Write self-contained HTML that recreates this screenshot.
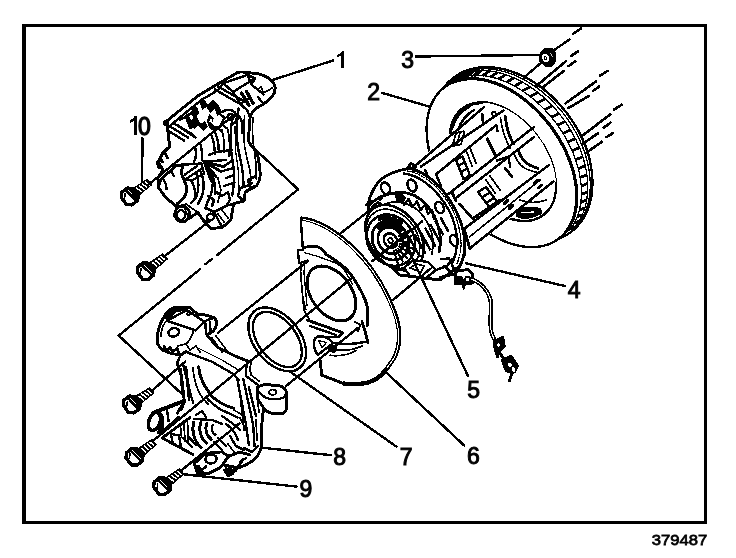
<!DOCTYPE html>
<html><head><meta charset="utf-8"><title>379487</title>
<style>
html,body{margin:0;padding:0;background:#fff;}
body{width:736px;height:558px;overflow:hidden;font-family:"Liberation Sans",sans-serif;}
svg{display:block;position:absolute;left:0;top:0;}
.t{font-family:"Liberation Sans",sans-serif;font-size:23px;fill:#000;stroke:#000;stroke-width:1px;}
.s{font-family:"Liberation Sans",sans-serif;font-size:16px;fill:#000;stroke:#000;stroke-width:0.5px;}
.l{stroke:#000;stroke-width:2.4;fill:none;stroke-linecap:round;stroke-linejoin:round;}
.m{stroke:#000;stroke-width:1.7;fill:none;stroke-linecap:round;stroke-linejoin:round;}
.n{stroke:#000;stroke-width:1.3;fill:none;stroke-linecap:round;stroke-linejoin:round;}
.k{stroke:#000;stroke-width:2.9;fill:none;stroke-linecap:round;stroke-linejoin:round;}
.w{fill:#fff;}
.b{fill:#000;}
</style></head>
<body>
<svg width="736" height="558" viewBox="0 0 736 558" shape-rendering="crispEdges">
<rect x="0" y="0" width="736" height="558" fill="#fff"/>
<!-- FRAME -->
<g id="frame">
<rect x="22" y="24" width="4" height="500" class="b"/>
<rect x="22" y="24" width="685" height="3.2" class="b"/>
<rect x="703.6" y="24" width="3.2" height="500" class="b"/>
<rect x="22" y="520.5" width="685" height="3.5" class="b"/>
</g>
<!-- LABELS -->
<g id="labels" opacity="0.999">
<path d="M342.1 51.0 L343.7 51.0 L343.7 67.6 L341.2 67.6 L341.2 55.5 C340.0 56.1 338.6 56.9 337.2 57.4 L337.2 55.1 C339.0 54.3 340.6 52.8 342.1 51.0 Z" fill="#000"/>
<text class="t" x="367.3" y="100.3">2</text>
<text class="t" x="401.2" y="67.6">3</text>
<text class="t" x="567.8" y="298.4">4</text>
<text class="t" x="467.3" y="397.5">5</text>
<text class="t" x="467" y="464.3">6</text>
<text class="t" x="399.7" y="464.8">7</text>
<text class="t" x="333.3" y="464.8">8</text>
<text class="t" x="299.6" y="497.1">9</text>
<path d="M134.9 116.0 L137.4 116.0 L137.4 134.6 L134.0 134.6 L134.0 121.0 C132.7 121.8 131.3 122.6 129.8 123.2 L129.8 120.7 C131.7 119.7 133.4 118.0 134.9 116.0 Z" fill="#000"/>
<text class="t" x="138.1" y="134.6" transform="translate(0 134.6) scale(1 1.12) translate(0 -134.6)" style="stroke-width:1.2px">0</text>
<text class="s" x="0" y="0" transform="translate(651.8 545.3) scale(1.04 0.96)" style="stroke-width:0.8px">379487</text>
</g>
<!-- 20_rotor.svg -->
<g id="rotor">
<ellipse class="l w" cx="512.3" cy="154.8" rx="97.0" ry="68.6" transform="rotate(52.8 512.3 154.8)"/>
<path class="n" d="M458.3 75.0 L461.5 73.4 L464.9 72.1 L468.3 70.9 L471.9 70.0 L475.6 69.4 L479.3 68.9 L483.2 68.7 L487.1 68.8 L491.1 69.1 L495.2 69.6 L499.3 70.4 L503.4 71.4 L507.6 72.6 L511.7 74.0 L515.9 75.7 L520.0 77.6 L524.1 79.7 L528.2 82.1 L532.2 84.6 L536.2 87.3 L540.1 90.2 L544.0 93.3 L547.7 96.6 L551.3 100.0 L554.8 103.6 L558.2 107.3 L561.5 111.1 L564.6 115.1 L567.6 119.2 L570.5 123.4 L573.1 127.7 L575.6 132.0 L577.9 136.5 L580.1 140.9 L582.0 145.4 L583.8 150.0 L585.3 154.6 L586.6 159.1 L587.8 163.7 L588.7 168.2 L589.4 172.7 L589.9 177.2 L590.2 181.6 L590.3 185.9 L590.1 190.1 L589.7 194.3 L589.1 198.3 L588.3 202.3 L587.3 206.1 L586.1 209.7 L584.7 213.2 L583.0 216.6 L581.2 219.8 L579.2 222.8 L576.9 225.7"/>
<path class="n" d="M454.8 77.8 L457.8 76.1 L461.0 74.6 L464.3 73.4 L467.8 72.3 L471.3 71.6 L475.0 71.0 L478.7 70.7 L482.6 70.6 L486.5 70.7 L490.5 71.1 L494.5 71.8 L498.5 72.6 L502.6 73.7 L506.7 75.0 L510.9 76.6 L515.0 78.4 L519.1 80.4 L523.1 82.5 L527.2 84.9 L531.2 87.5 L535.1 90.3 L538.9 93.3 L542.7 96.5 L546.4 99.8 L549.9 103.2 L553.4 106.9 L556.7 110.6 L559.9 114.5 L563.0 118.5 L565.9 122.6 L568.7 126.8 L571.3 131.1 L573.7 135.5 L576.0 139.9 L578.1 144.4 L580.0 148.9 L581.6 153.4 L583.1 157.9 L584.4 162.5 L585.5 167.0 L586.4 171.5 L587.0 175.9 L587.5 180.3 L587.7 184.7 L587.7 188.9 L587.5 193.1 L587.1 197.2 L586.5 201.2 L585.7 205.0 L584.6 208.7 L583.3 212.3 L581.9 215.7 L580.2 219.0 L578.4 222.1 L576.3 225.0 L574.1 227.7"/>
<path d="M461.2 77.3 L466.8 72.6 M468.1 75.8 L474.0 71.1 M475.3 75.2 L481.5 70.6 M482.8 75.6 L489.4 71.0 M490.6 76.9 L497.5 72.4 M498.6 79.1 L505.7 74.7 M506.6 82.2 L513.9 77.9 M514.6 86.2 L522.1 81.9 M522.5 91.0 L530.1 86.8 M530.2 96.5 L537.9 92.5 M537.6 102.8 L545.4 98.9 M544.7 109.6 L552.5 105.9 M551.3 117.1 L559.1 113.5 M557.4 125.0 L565.2 121.5 M563.0 133.3 L570.6 130.0 M567.9 141.9 L575.4 138.7 M572.1 150.7 L579.5 147.7 M575.6 159.6 L582.8 156.7 M578.3 168.5 L585.2 165.8 M580.2 177.3 L586.9 174.7 M581.2 186.0 L587.7 183.5 M581.5 194.3 L587.6 192.0 M580.9 202.3 L586.7 200.1 M579.4 209.9 L584.9 207.7 M577.2 216.9 L582.3 214.8 M574.2 223.2 L578.9 221.3 M570.4 228.9 L574.7 227.0 " stroke="#000" stroke-width="2.8" fill="none"/>
<path d="M445.5 86.2 L452.7 78.5 M448.2 84.3 L455.7 76.5 M451.0 82.7 L458.7 74.6 M453.9 81.3 L461.9 73.0 M457.0 80.1 L465.3 71.7 M460.2 79.1 L468.7 70.5 M463.6 78.4 L472.3 69.6 M467.0 77.9 L476.0 68.9 M470.5 77.6 L479.8 68.5 M474.2 77.5 L483.7 68.3 " stroke="#000" stroke-width="1.5" fill="none"/>
<path class="n" d="M451.0 81.8 L453.9 80.2 L457.0 78.8 L460.2 77.6 L463.5 76.7 L466.9 76.0 L470.4 75.5 L474.1 75.2 L477.8 75.2 L481.6 75.5 L485.4 75.9 L489.3 76.6 L493.3 77.5 L497.3 78.7 L501.3 80.1 L505.3 81.6 L509.3 83.5 L513.3 85.5 L517.2 87.7 L521.2 90.1 L525.1 92.7 L528.9 95.5 L532.7 98.5 L536.4 101.7 L540.0 105.0 L543.5 108.4 L546.9 112.1 L550.2 115.8 L553.4 119.7 L556.4 123.6 L559.3 127.7 L562.1 131.9 L564.7 136.1 L567.1 140.4 L569.3 144.8 L571.4 149.2 L573.3 153.6 L575.0 158.1 L576.5 162.6 L577.9 167.0 L579.0 171.4 L579.9 175.9 L580.6 180.2 L581.1 184.5 L581.4 188.8 L581.5 193.0 L581.4 197.0 L581.0 201.0 L580.5 204.9 L579.7 208.6 L578.8 212.3 L577.6 215.7 L576.3 219.0 L574.7 222.2 L573.0 225.2 L571.0 228.0 L568.9 230.6"/>
<ellipse class="l w" cx="501.7" cy="162.9" rx="94.9" ry="61.1" transform="rotate(53.0 501.7 162.9)"/>
<path d="M451.9 82.7 L454.9 81.5 L458.1 80.5 L461.4 79.7 L464.7 79.1 L468.2 78.8 L471.8 78.7 L475.4 78.8 L479.1 79.1 L482.9 79.7 L486.7 80.5 L490.6 81.6 L494.5 82.8 L498.4 84.3 L502.4 86.0 L506.3 87.9 L510.2 90.0 L514.1 92.3 L518.0 94.9 L521.8 97.5 L525.5 100.4 L529.2 103.5 L532.9 106.7 L536.4 110.0 L539.8 113.5 L543.2 117.2 L546.4 120.9 L549.5 124.8 L552.5 128.8 L555.3 132.9 L558.0 137.0 L560.5 141.3 L562.9 145.6 L565.1 149.9 L567.1 154.3 L568.9 158.7 L570.6 163.1 L572.1 167.5 L573.3 171.9 L574.4 176.3 L575.3 180.6 L576.0 184.9 L576.5 189.1 L576.7 193.3 L576.8 197.3 L576.7 201.3 L576.3 205.2 L575.8 208.9 L575.0 212.6 L574.1 216.0 L572.9 219.4 L571.6 222.6 L570.0 225.6 L568.3 228.5 L566.4 231.2" stroke="#000" stroke-width="3.2" fill="none"/>
<ellipse class="l w" cx="503.1" cy="161.8" rx="66.7" ry="42.9" transform="rotate(52.7 503.1 161.8)"/>
<path d="M453.3 157.8 L452.2 153.7 L451.3 149.6 L450.7 145.6 L450.3 141.7 L450.2 137.9 L450.3 134.2 L450.7 130.6 L451.4 127.2 L452.3 123.9 L453.4 120.8 L454.8 118.0 L456.5 115.3 L458.3 112.9 L460.4 110.7 L462.7 108.7 L465.2 107.1 L467.8 105.6 L470.7 104.5 L473.7 103.6 L476.8 103.1 L480.1 102.8 L483.4 102.7 L486.9 103.0 L490.5 103.6 L494.1 104.4 L497.7 105.6 L501.4 107.0 L505.1 108.6 L508.8 110.6" stroke="#000" stroke-width="3.2" fill="none" stroke-linecap="round"/>
</g>

<!-- 25_studs.svg -->
<g id="cage">
<path d="M408.8 168.4 L483.0 106.5 L483.4 102.7 L487.8 103.1 L492.3 104.0 L496.8 105.3 L501.4 107.0 L506.0 109.1 L510.6 111.6 L515.2 114.5 L519.6 117.8 L523.9 121.4 L528.1 125.3 L532.0 129.5 L535.8 134.0 L539.3 138.6 L542.5 143.4 L545.4 148.4 L548.0 153.5 L550.3 158.6 L552.2 163.8 L553.7 168.9 L554.9 174.0 L555.6 179.0 L556.0 181.5 L470.0 250.0 L463.0 232.0 L455.0 214.0 L444.0 192.0 L430.0 178.0 Z" fill="#fff" stroke="none"/>
</g>
<g id="hat">
<!-- hat inner arcs -->
<path class="k" d="M452 128 C455 118 462 110 470 106"/>
<path class="l" d="M458 130 C461 121 467 114 474 110"/>
<path class="k" d="M505.2 116.1 C506 122 507 128 508.5 132.4 S511 140 513.4 143.8"/>
<path class="m" d="M500.5 118 C501.5 125 503 132 505 137 S508 144 510 148"/>
<path class="k" d="M518.3 150.3 C520 155 522 159 524.8 161.7 S532 166.5 537.8 168.3"/>
<path class="m" d="M514 154 C516 159 519 164 523 167 S531 171 536 172"/>
<path class="k" d="M482.4 114.5 L483.2 124.2 M487.3 138.9 L495.4 155.2 M505.2 168.3 L511.7 176.4"/>
<path class="m" d="M466 150 L472 166 M470 148 L476 163 M490 176 L500 190 M486 180 L495 193"/>
<circle cx="493.8" cy="113.6" r="2" class="m"/>
<path class="l" d="M497 160.5 L508.5 156.8 L510.1 166.6"/>
<!-- slots -->
<path class="l" d="M456 160 L462.5 156.5 L470 175.5 L463.5 179 Z M458.3 165.8 L464.8 162.3 M461 172 L467.5 168.5"/>
<path class="l" d="M478 192 L486 187 L498 203 L490 208 Z M482 197.5 L490 192.5 M486 203 L494 198"/>
<path d="M452.5 146 L456 133 M456.5 146 L460.5 131 M461 144.5 L464.5 131 M456 133 L464.5 131 M452.5 146 L461 144.5" stroke="#000" stroke-width="1.8" fill="none"/>
<!-- dark slot lower right -->
<path class="l b" d="M517 211 C520 208 530 207 540 209 L541 213 C533 218 522 219 517 216 Z"/>
<path d="M521 212.5 L534 212" stroke="#fff" stroke-width="1.2" fill="none"/>
<path class="m" d="M520 200 C528 203 538 203 546 200"/>
</g>
<g id="studs" class="l" style="stroke-width:2.5">
<path d="M411.7 168.8 L484 107.1"/>
<path d="M421 166.5 L503.6 110.4"/>
<path d="M436 174.3 L496.3 125.1 L497.5 131"/>
<path d="M447.5 194.7 L533.6 127.3"/>
<path d="M454.7 199 L533.6 137.3"/>
<path d="M464.5 228.5 L549.2 164.9"/>
<path d="M469.7 248.5 L553.4 181.5"/>
<path d="M469.7 236.7 L540.6 179.6" class="m"/>
<path class="k" d="M425 170 L430 181 M436 174.3 L441 186 M459.6 204 L472.6 218.6 L500 199.9" style="stroke-width:2.6"/>
<!-- marks on bars -->
<path class="k" d="M504 204 L508 200 M509 209 L513 205 M534 183 L538 180 M538 188 L542 185"/>
<path class="k" d="M452 192.5 L456 201 M464.8 230.8 L469.7 248.5"/>
</g>

<!-- 30_hub.svg -->
<g id="hub">
<!-- flange silhouette -->
<path class="k w" d="M368.4 203 C370 195 375 185 381 179.5 S397 170.5 408.8 168.4 C420 170 435 180 444 192 S460 215 463 230 S466 252 460 266 L440 280 L400 275 L372 250 Z"/>
<!-- rim inner arcs -->
<path class="l" d="M404 173.5 C416 175 428 183 437.8 194.2 S452 214 455 226 S458 250 453 262"/>
<path class="n" d="M407 171 C419 172.5 432 181 441 192.5 S456 214 459 228 S462 250 457 264" stroke-dasharray="1.5 1.5"/>
<!-- holes -->
<ellipse cx="385.6" cy="188.5" rx="6.3" ry="4.3" transform="rotate(65 385.6 188.5)" class="l"/>
<path class="n" d="M388 184 C391 186 390 192 387 194"/>
<ellipse cx="412" cy="185.6" rx="6.3" ry="4.3" transform="rotate(65 412 185.6)" class="l"/>
<path class="n" d="M414.5 181 C417.5 183 416.5 189 413.5 191"/>
<ellipse cx="439.5" cy="207.5" rx="6" ry="4" transform="rotate(65 439.5 207.5)" class="l"/>
<ellipse cx="454" cy="240.5" rx="5.5" ry="3.8" transform="rotate(70 454 240.5)" class="l"/>
<!-- stud base nubs -->
<path class="k" d="M407 169 L411 163.5 L416 166 L413.5 171.5"/>
<!-- inner boss ring on flange -->
<path class="k" d="M370 204.5 C376 198 386 193.5 398 192.5 S419 196.5 426.5 205 S436 219 438.5 228 S441 242 439 252"/>
<path class="l" d="M400 197 L404 204.5 L408.5 199 L412.5 207 L417 201.5 L420.5 210 L425 205 L428 214 L432 210 L434 219"/>
<path class="b" d="M394 194 L402 193.5 L406 198 L403 204 L397 202.5 Z"/>
<path class="l" d="M372 207 L378 202 L384 206 M380 200 L383 196"/>
<path class="k" d="M366.5 205 L372 201.5"/>
<path class="m" d="M381 206 C388 202 398 201 407 204 S424 215 429 226 S434 244 432 254"/>
<!-- bearing concentric -->
<g transform="rotate(54.4 390.5 240.5)" fill="none" stroke="#000">
<ellipse cx="390.5" cy="235.5" rx="36.0" ry="25.0" stroke-width="2.6" fill="#fff"/>
<ellipse cx="390.5" cy="237.5" rx="32.0" ry="24.0" stroke-width="1.6" fill="none"/>
<ellipse cx="390.5" cy="240.0" rx="27.0" ry="22.8" stroke-width="2.6" fill="none"/>
<ellipse cx="390.5" cy="240.5" rx="20.5" ry="17.3" stroke-width="2.8" fill="none"/>
<ellipse cx="390.5" cy="240.5" rx="14.0" ry="11.8" stroke-width="2.8" fill="none"/>
<ellipse cx="390.5" cy="240.5" rx="7.5" ry="6.3" stroke-width="2.6" fill="none"/>
<ellipse cx="390.5" cy="240.5" rx="2.6" ry="2.0" stroke-width="1.8" fill="none"/>
</g>
<path d="M398.0 236.4 L409.4 230.2 M399.0 238.8 L412.1 236.2 M399.5 241.3 L413.4 242.6 M399.4 243.7 L413.0 248.7 M398.6 245.9 L411.2 254.4 M397.3 247.8 L407.9 259.0 M395.6 249.1 L403.4 262.4 M393.5 249.9 L398.1 264.3 " stroke="#000" stroke-width="2" fill="none"/>
<path d="M404.0 241.0 L412.2 255.6 M409.2 237.6 L420.2 257.1 M414.4 234.2 L425.4 253.7 M419.6 230.8 L430.6 250.3 M424.8 227.4 L435.8 246.9 M430.0 224.0 L441.0 243.5 M435.2 220.6 L443.4 235.2 M440.4 217.2 L448.6 231.8 " stroke="#000" stroke-width="2.5" fill="none"/>
<path d="M379.4 227.2 L380.6 226.3 L381.9 225.5 L383.3 224.9 L384.8 224.5 L386.4 224.2 L387.9 224.1 L389.6 224.2 L391.2 224.5 L392.8 224.9 L394.4 225.5 L395.9 226.3 L397.4 227.2 L398.8 228.3 L400.2 229.5" stroke="#000" stroke-width="6" fill="none" stroke-linecap="round"/>
<path d="M379.6 219.3 L381.6 218.5 L383.6 218.0 L385.8 217.8 L388.0 217.8 L390.3 218.1 L392.5 218.6 L394.7 219.3 L396.9 220.3 L399.0 221.5 L401.0 222.9" stroke="#000" stroke-width="3.6" fill="none" stroke-linecap="round"/>
<path class="l w" d="M404 268 L413 260 L428 262 L436 270 L426 278 L410 276 Z"/>
<path class="m" d="M410 268 L416 264 L424 266 L421 272 Z M428 270 L433 267"/>
<path class="l" d="M436 270 L447 266 L452 259"/>
</g>

<!-- 35_wire.svg -->
<g id="wire">
<!-- sensor connector -->
<path class="k w" d="M455 271.5 L468 269.5 L472.5 274 L472.5 283 L455.5 284 Z"/>
<path class="b" d="M455 276 L462 275.5 L466 284 L464 291 L461 284 L455.5 284 Z"/>
<ellipse cx="467.7" cy="279.5" rx="2.8" ry="2.8" class="m w"/>
<path class="k" d="M464.4 255 L457.9 270.5"/>
<path class="l" d="M441 259 L449 258.5 L455 271 M440 277 L453.9 274.6 M444 266 L452 273"/>
<!-- wire double line -->
<path d="M471 279 C480 282 488 290 490.5 300 C491.5 310 489.5 322 491 330 C492 337 496 342 498 346" fill="none" stroke="#000" stroke-width="4.2" stroke-linecap="round"/>
<path d="M471 279 C480 282 488 290 490.5 300 C491.5 310 489.5 322 491 330 C492 337 496 342 498 346" fill="none" stroke="#fff" stroke-width="1"/>
<!-- connectors lower -->
<path class="l b" d="M494 341 L503 337 L504.5 346 L500 351 L497.5 357 L495 350 Z"/>
<ellipse cx="498.5" cy="345" rx="2.2" ry="2.2" class="n w"/>
<path class="k" d="M499 352 L509 366"/>
<path class="l b" d="M502 360 L511 356 L518 366 L513 373 L506 371 Z"/>
<ellipse cx="510" cy="365" rx="2.5" ry="3.2" class="n w" transform="rotate(-35 510 365)"/>
<ellipse cx="513.5" cy="369.5" rx="2.2" ry="3" class="n w" transform="rotate(-35 513.5 369.5)"/>
<path class="k" d="M512 373 L509.5 381"/>
</g>

<!-- 40_shield.svg -->
<g id="shield">
<!-- body fill -->
<path class="w" d="M300.7 218.5 C315 220 332 228 350.5 245.2 S380 280 388 297 S400 325 399 340 S392 362 384 372 S362 386 343 383.5 L331.6 378.8 L321.7 375.3 L320.3 361 L316 352 L312 318 L304 310 L300.3 272.8 L299 263 L297.7 250 L302.9 249.8 Z"/>
<!-- rim thick double -->
<path d="M300.7 218.5 C315 220 332 228 350.5 245.2 S380 280 388 297 S400 325 399 340 S392 362 384 372 S362 386 343 383.5" fill="none" stroke="#000" stroke-width="4.4"/>
<path d="M303 219.5 C315 221 332 229 350.5 246 S380 280 387.5 297 S399.5 325 398.5 340 S393 360 387 368" fill="none" stroke="#fff" stroke-width="1"/>
<!-- lower left lobe -->
<path class="k" d="M343 383.5 L331.6 378.8 L321.7 375.3 L320.3 361"/>
<!-- left edge -->
<path class="l" d="M300.7 218.5 L302.9 249.8 L297.7 249.8 L299.2 263.3 L307.4 260.6"/>
<path class="m" d="M301.2 264 L300.5 272.8 L304 310.4 L309 319"/>
<path class="n" d="M304.5 264 L304 272.8 L307 306"/>
<!-- ridge -->
<path class="k" d="M302.9 248.3 C306 246.5 316 245 320.9 248.3 S324 253 327 255 S341 263 347.8 270.8 S356 282 362 293 S369 312 367 326"/>
<path class="n" d="M304.4 252.8 C315 255 325 259 334.3 262.5 S348 276 353 285"/>
<!-- big opening ellipse -->
<ellipse cx="331.5" cy="293.5" rx="30.8" ry="19.9" transform="rotate(53.5 331.5 293.5)" fill="none" stroke="#000" stroke-width="3"/>
<path class="n" d="M301.4 272.3 C300.5 280 302 297 306 310"/>
<!-- V ribs lower -->
<path class="k" d="M307.5 320.2 L342.5 332.6 L339 337 L318 337"/>
<path class="l" d="M310 326 L336 335"/>
<path class="k" d="M362 321.8 L365 331 L368.1 343.1"/>
<path class="m" d="M355 322 L360.5 325 L358 331"/>
<!-- tab -->
<path class="l" d="M314 343.5 C314 339.5 316 336.5 319.4 336.2 C325 336 330 339 333.1 343.1 C328 347 322 351 317.9 355.3 C315.5 352 314 348 314 343.5 Z"/>
<path class="n" d="M318.5 340.5 L322 347.5 L326.5 342.5 Z"/>
<path class="l" d="M333.1 343.1 C344 345 356 344 366.6 341.6"/>
<path class="m" d="M331.6 349.2 C342 351.5 353 350 362 346.1 M330 355.3 C339 356.5 348 355 355.9 350.7"/>
<path class="k" d="M328 348 L336 346 L334 352 Z"/>
</g>

<!-- 50_oring.svg -->
<g id="oring">
<ellipse cx="277.2" cy="339.4" rx="36.3" ry="23.1" transform="rotate(51.5 277.2 339.4)" class="l"/>
<ellipse cx="277.4" cy="339.5" rx="31.6" ry="19" transform="rotate(52.5 277.4 339.5)" class="l"/>
</g>

<!-- 60_knuckle.svg -->
<g id="knuckle">
<!-- overall white mask -->
<path class="w" d="M165.2 315.2 L174.7 307.6 L190 307.6 L197.6 314.3 L214.7 318 L216.6 324.7 L212 333 L234.6 355.8 L248.9 361.6 L257.5 384.5 L266 384 L283 385 L287 392 L287 408 L283 413.5 L263 411 L262 445 L257.5 456 L246 465 L231 471 L224 476 L197 474 L194 463 L193 454.5 L162.2 438 L164.3 430 L150 432 L147 420 L153 411 L183 401 L178 363 L186 352 L171 353.3 L157.6 343.8 L157.6 334.2 Z"/>
<!-- upper boss -->
<path class="k" d="M165.2 315.2 C167 311 171 308.5 174.7 307.6 L190 307.6 L197.6 314.3 L207 315.2 L214.7 318 C216.5 320 217 322.5 216.6 324.7 C216 328 214.5 330 212.8 331.4 L207 335.2"/>
<path class="k" d="M165.2 315.2 C161 321 158.5 328 157.6 334.2 L157.6 343.8 C159 347 161 349 163.3 350.4 L171 353.3 L180.4 355.2 L186.1 351.4"/>
<path class="b" d="M164.1 318.5 L171.7 308.7 L185.9 307.1 L187.5 310 L176 312.5 L167 320.5 Z"/>
<path class="l w" d="M166.8 320.7 L187 310.2 L204.3 321.7 L195.7 330.4 Z"/>
<path class="m" d="M168 319 C163 324 161 330 161 336 M193.8 330.4 C192 336 190 341 186 344 L178 346"/>
<ellipse cx="188.6" cy="313.8" rx="1.7" ry="1.3" class="m"/>
<ellipse cx="173.8" cy="332.3" rx="5.4" ry="4.2" class="l" transform="rotate(-15 173.8 332.3)"/>
<path class="l" d="M205.2 321 L212 318.5 M205.2 321 L206 334 M210 322 L210.5 331"/>
<path class="k" d="M164 346 L166 351 L170 347.5 L172.5 352 L177 348.5 L179 353.5"/>
<path class="m" d="M186 344 L190 350 L196 346 L200 352"/>
<!-- arm -->
<path class="k" d="M207 335.2 L217.4 347.2 L234.6 355.8 L248.9 361.6"/>
<path class="l" d="M186.1 351.4 L188.7 353 L211.6 361.6 L231.7 373 L238.9 380.2"/>
<path class="n" d="M196 347 L222 360 L240 371"/>
<path class="m" d="M212 338 L222 352 M216 336 L228 352"/>
<!-- neck to ear -->
<path class="l" d="M247.5 363 C246 367 245.5 372 246 375.9 L257.5 384.5"/>
<path class="m" d="M251 362.5 C250 366 250 371 251 375 L259 381"/>
<!-- ear -->
<path class="k w" d="M257.5 387.4 C260 385.5 263 384.6 266.1 384.5 L280.5 386 C283.5 387 285.5 389 286.2 391.7 L286.8 407.5 C286.5 410 285 412 283.4 413.2 L271.9 413.2 C268 412.5 265 410.5 263.3 407.5 L257.5 398.8 Z"/>
<path class="l" d="M259 391.7 C263 398 270 400 278 399 S286 395 286.2 391.7"/>
<ellipse cx="272.7" cy="392.2" rx="3.6" ry="2.6" class="m"/>
<!-- web right edge -->
<path class="k" d="M263.3 410.3 L261.8 424.7 L261.8 444.7 C261 450 259.5 453 257.5 456.2 C254 460 250 463 246 464.8 L231.7 470.6"/>
<path class="l" d="M237.5 380.2 L246 424.7 L248.9 444.7 M243.2 378.8 L253.2 424.7 L254.5 446 M248.9 387.4 L256.1 416"/>
<path class="m" d="M240 395 L244 430 M257.5 398.8 L259 412 M256 420 L257 440"/>
<!-- left structure -->
<path class="k" d="M177.2 363 L181.5 375.9 L184.4 401.7 L177.2 413.2"/>
<path class="l" d="M180.4 355.2 L177.2 363 M183 364 L187 380 L189 400"/>
<!-- bore arcs upper -->
<path class="l" d="M180.8 368.7 C180.5 374 181 380 181.6 384.8 S183 394 184.3 399.1"/>
<path class="l" d="M186.1 366.9 C186.5 374 187.5 381 188.8 386.6 S191 397 193.3 402.7"/>
<path class="k" d="M198.7 366.9 C199 372 200.5 377 202.3 381.2 S205 386.5 207.6 390.2 L211.2 395.6 C214 398.5 218 401.5 222 403.6 S229 407 234 408.5"/>
<path class="l" d="M207.6 399.1 C211 402.5 214.5 405.5 218.4 408.1 S225 411.5 230 413.8 L237.5 417.5"/>
<path class="m" d="M193 368 C193.5 376 195.5 384 198 390 S204 400 208 404"/>
<!-- lower left edge & tie rod arm -->
<path class="k" d="M190 417.5 L178.7 425.8 L162.2 438 L193 454.5"/>
<path class="k" d="M184.4 401.7 L181 410"/>
<path d="M153 412.9 C162 409.5 172 405.5 183 401.4" stroke="#000" stroke-width="4" fill="none" stroke-linecap="round"/>
<path class="k" d="M164.3 430 L178.7 417.2"/>
<ellipse cx="154.5" cy="421.5" rx="5.6" ry="9.4" transform="rotate(20 154.5 421.5)" fill="#fff" stroke="#000" stroke-width="3.6"/>
<path d="M158.5 412 C162.5 414 164 420 163 426 C162.5 430 160.5 432.5 158 433 C160.5 428.5 161 419 158.5 412 Z" class="l b"/>
<path class="l" d="M167 409.5 L168.5 421"/>
<!-- frame inside -->
<path class="l" d="M171 434 L179 435.5 L181 447.5 M171 434 L172.5 442.5"/>
<path class="m" d="M180.5 426.5 L181.5 437 M184 424 L185 441.5 M187.5 421.5 L188.5 444"/>
<path class="l" d="M183 438 L192 447 M188 436 L196 445"/>
<!-- lower concentric arcs -->
<path class="k" d="M193.7 422 A26 26 0 0 0 201 447.5"/>
<path class="k" d="M200.9 422.2 A19 19 0 0 0 206.6 443.3"/>
<path class="k" d="M207 423.2 A13 13 0 0 0 211.3 439.3"/>
<path class="l" d="M212.7 425.2 A7 7 0 0 0 215.3 434.8"/>
<path class="l" d="M196 415 L202 411 L206 417 M194 419 L212 420 L222 424"/>
<path class="l" d="M222 416 C228 420 234 424 240 430 M226 424 C232 428 236 434 238 440 M230 436 L236 446 L244 450"/>
<path class="m" d="M240 418 L246 430 M234 410 L244 416 M228 444 L234 452 M218 438 L226 446 M214 442 L222 450"/>
<!-- lower ball joint boss -->
<path class="k" d="M194.4 463.4 L205.9 453.3 L221.7 451.9 L228.8 456.2 L220.2 467.7 L208.8 473.4 L197.3 473.4 Z"/>
<ellipse cx="211" cy="459" rx="5.6" ry="4.4" class="l" transform="rotate(-10 211 459)"/>
<path class="k" d="M223.1 464.8 L237.5 467.7 L243.2 459.1 M228.8 456.2 L240 452 L250 455"/>
<path class="l" d="M197 466 L201 471 L206 466.5 M226 468 L228 474 L236 471 M240 462 L246 458 M244 448 L252 452 L258 446"/>
<path class="l b" d="M224 470 L228 476 L233 474 L230 468 Z M196 468 L199.5 473.5 L203 472 L199 466.5 Z"/>
</g>

<!-- 70_caliper.svg -->
<g id="caliper">
<!-- silhouette -->
<path class="k w" d="M165 122.5 L178.5 111.4 L197.6 96.1 L216.6 84.7 L237.9 72.3 C242 71.6 247 72.2 251.3 73 C256 73.4 260 74 263.6 75.4 C267 77 270 79 272.1 80.9 C274.5 84 275.3 86 275.2 88.2 C275 92 273.5 95 272.1 96.8 C269 100 266 102 263.6 104.1 C258 107 255.5 108.5 253.8 110.2 C251.5 113 250.5 115 250.1 117.6 L248.9 133 L248.9 141.8 C251 146 254 149 256.5 151.3 C258.5 157 259.5 165 260.3 174.2 C260 179 258.5 183 256.5 185.7 L245.1 192.3 L244.2 200.9 L233.7 203.7 L230.8 219.9 L222.3 227.5 L210.9 228.5 L205 222.5 L197.6 212.3 L190 218 L180.4 221.8 L174.7 216.1 L176.6 206.6 L165.2 197 L158.6 187.6 L158 178 L163 170 L158 162 L162 154 L169.7 147 L167.2 125 Z"/>
<!-- bleeder knob and Y -->
<circle cx="166" cy="123" r="3.2" class="b"/>
<path class="k" d="M169.7 147 L164 151 L160 158 L162.5 162 M164 151 L167.5 158"/>
<path class="l" d="M160 158 L157 163 L159 168"/>
<!-- second top edge line -->
<path class="l" d="M169 126.5 L181 116.5 L199.5 101.5 L218 90 L223.2 83.3"/>
<!-- bridge top rectangle -->
<path class="l" d="M223.2 83.3 L247.7 74.8 L255 78.4 L233 91.9 Z"/>
<path class="l" d="M247.7 74.8 L251.3 84.6 L263.6 94.3 M255 78.4 L251.3 84.6"/>
<path class="m" d="M257.5 89.5 L261 87 L263.6 93 L272 88.2"/>
<path class="l" d="M233 91.9 L240 103 M214.7 89.4 L240.3 104.1 L250 98 M218 86.5 L243.5 101"/>
<path d="M241.6 93.1 L248.9 105.3 M246.5 91.5 L253.2 103.5" stroke="#000" stroke-width="3.4" fill="none" stroke-linecap="round"/>
<path class="l" d="M250.1 117.6 L247 110 L240.3 104.1 M263.6 104.1 L258 97"/>
<!-- dense center top -->
<path d="M199 100 L204 96.5 L208.5 103 L213 100 L216 108 L210 113 L206.5 107 L202 110 Z" class="b"/>
<path d="M196 106 L200 112 L196.5 116 L200 123 L205 121 L208 127 L203 131 L198 126 L194 129 L190 121 L194 117 L191.5 110 Z" class="b"/>
<path d="M204.5 99.5 L207.5 104.5 L211 102 L208 97.2 Z M197.5 109 L200.5 107 L203 112 L200 114 Z M199 119 L202.5 117 L204.5 121.5 L201 123.5 Z" fill="#fff"/>
<path d="M213 100 C217 102 220.5 107 221.5 113 L217 116 C216 110 213.5 106 210 104 Z" class="b"/>
<path d="M209 114 L214 118 L212 124 L217 127 L215 132 L209 128 L207 121 Z" class="b"/>
<path d="M210.5 118.5 L212.5 120 L211.5 123 L209.5 121.5 Z" fill="#fff"/>
<path class="l" d="M174.1 123.5 L192.6 134.3 M171 127 L188 137.5 M168.7 131 L184 140.5"/>
<path class="k" d="M186 116.5 L192.5 112.6 L197 123.5 L190.5 127.8 Z"/>
<path class="l" d="M189 118.5 L193 126 M180 120 L186 116.5"/>
<path class="k" d="M177 125 L195.3 137.2"/>
<path class="l" d="M219 113 L224.5 118 L221.5 123.5 L226 128 M217 127 L222 131.5"/>
<!-- guide pin bore at top -->
<path class="l" d="M222 112 C227 108.5 233.5 109.5 236 114 C238 118.5 236 123 232 124.5"/>
<circle cx="230.5" cy="117" r="3" class="l"/>
<circle cx="230.5" cy="117" r="1" class="b"/>
<path class="l" d="M236 114 C240 116 242 120 242 125 L242 133"/>
<!-- right side band (anchor bracket) -->
<path class="l" d="M238.7 108.4 C237 118 236.5 130 237.1 140.6 C238 150 240 158 241.9 166.5 C243 173 243.6 180 243.5 185.8"/>
<path class="l" d="M232.3 118 C231 127 230.3 136 230.6 143.9 C231 153 232.5 162 233.9 169.7 C234.5 178 234 187 232.3 195.5"/>
<path class="m" d="M244.5 116 C243.5 126 243.5 136 244.5 146 C246 155 248 163 250 170 C251 176 251 181 250.5 185"/>
<path class="m" d="M253 118 C252 128 252.5 140 254.5 152 C256 160 256.8 170 256.3 179"/>
<path class="n" d="M235 126 L235.5 150 L238.5 172 L239 190"/>
<!-- vertical curves center -->
<path class="l" d="M195.3 148.2 C196.5 153 196 158 194.1 161.7 M200.8 144.6 C202 150 202.5 156 202.1 160.5"/>
<path class="l" d="M211.2 134.8 C213.5 140 214.8 147 214.9 154.3 M215 132.3 C217.5 138 218.7 144 218.6 149.5"/>
<path class="m" d="M222 130 C224 138 224.5 146 224 152 M227.5 128 C229.5 137 230 147 229 156"/>
<!-- fan ribs from (204,162) -->
<path class="k" d="M203.9 161.7 L223.5 166.5 M203.9 161.7 L221 171.5 M203.9 161.7 L216 176.5"/>
<path class="l" d="M203.9 161.7 L226 160 M203.9 161.7 L211 181 M209 155 L216 152 L232 150"/>
<path class="l" d="M223.5 166.5 L233 160 M221 171.5 L233.5 168 M226 178 L234 175 M224 186 L234.5 182.5"/>
<!-- piston housing -->
<path class="k" d="M158.7 185.5 C159.5 182 160.5 180 162.3 178.1 C165 174.5 168 172.5 170.9 170.8 L175.8 165.9 L183.1 164.7"/>
<path class="k" d="M183.1 164.7 C182 168 181.5 171 181.9 174.4 C183 178 184.5 181 185.6 184.2 C186.5 186 187 188 186.8 190.3 C186 196 182 201 177 203.8"/>
<path class="l" d="M162.3 178.1 C165 181 166.5 185 166.5 189 M170.9 170.8 L174 176"/>
<path class="l" d="M183.1 164.7 L201.5 163.5 L204 173.5 L191.7 180.6 L185 179.5"/>
<path class="l" d="M185 174.5 L197 166 M186 179 L201 169"/>
<path class="l" d="M191.7 180.6 C194 186 195.5 192 195.5 198 L191 203"/>
<path class="m" d="M176.6 206.6 L186 204 L197.6 212.3"/>
<!-- lower center body -->
<path class="l" d="M206 166 C212 172 214 182 212 190 C211 198 206 202 206 208 L214 212"/>
<path class="l" d="M200 170 C204 178 204.5 188 202 196 L198 204 M196 172 C199 180 199 190 196 198"/>
<path class="m" d="M210 170 C215 178 216 186 215 194 M218 178 L221 190 L218 202"/>
<path class="k" d="M208 196 L214 200 L212 206 M216 192 L222 196"/>
<path class="l" d="M222 196 L228 192 L230 200 L226 206 L233.7 203.7"/>
<!-- lower boss -->
<ellipse cx="182.2" cy="214" rx="7.4" ry="7.8" class="k w"/>
<ellipse cx="181" cy="215" rx="4.2" ry="4.8" class="l"/>
<path class="m" d="M185 209 L188.5 218"/>
<!-- lower guide pin boss -->
<path class="l" d="M205 208 L214 212 L222.3 227.5 M205 222.5 L212 214 M214 212 L226 206"/>
<circle cx="210.5" cy="217" r="3.4" class="l w"/>
<path class="m" d="M218 214 L224 222 M222 210 L228 218"/>
<!-- right lower blocks -->
<path class="l" d="M244.2 200.9 L238 196 L240 188 L247 186 M245.1 192.3 L250 188 L248 180 L256 176"/>
<path class="l" d="M247 186 L252 183 M250 188 L254 186.5"/>
</g>

<!-- 80_bolts.svg -->
<defs>
<g id="bolt">
<path d="M-8.4 -4.2 L-5 -8 L1.8 -8.2 L5.6 -5 L6.4 4.2 L3 8 L-4.2 8.2 L-8.4 4.6 Z" fill="#fff" stroke="#000" stroke-width="3.4" stroke-linejoin="round"/>
<path d="M-0.5 -6.8 L1.6 6.4 M2.6 -7 L4.4 6" stroke="#000" stroke-width="2.4" fill="none"/>
<path d="M-6.5 -1 L-2.5 -5.5" stroke="#000" stroke-width="1.4" fill="none"/>
<path d="M6.5 -4.2 L23 -3.2 L23.5 3.2 L6.5 4.2 Z" fill="#000" stroke="#000" stroke-width="1.6" stroke-linejoin="round"/>
<path d="M9.6 -2.6 L11 2.8 M13.2 -2.6 L14.6 2.6 M16.8 -2.4 L18 2.4 M20.2 -2.2 L21.2 2.2" stroke="#fff" stroke-width="1.5" fill="none" stroke-linecap="round"/>
</g>
</defs>
<g id="bolts">
<use href="#bolt" transform="translate(130.5 195.8) rotate(-36)"/>
<use href="#bolt" transform="translate(146.4 270.5) rotate(-37)"/>
<use href="#bolt" transform="translate(132.6 403.8) rotate(-35)"/>
<use href="#bolt" transform="translate(135.3 456.2) rotate(-37)"/>
<use href="#bolt" transform="translate(162.9 485.5) rotate(-37)"/>
</g>

<!-- 90_lines.svg -->
<g id="axes" class="l">
<!-- upper bracket -->
<path d="M250 144.5 L298.1 189.4 L217 255.2"/>
<path d="M211.7 259.1 L205.4 264.2"/>
<path d="M200.4 268.9 L118.7 335.6 L183 395"/>
<!-- bolt 10 lines -->
<path d="M142.4 138.3 L142 181" style="stroke-width:2.6"/>
<path d="M148 185 L234 115"/>
<path d="M164 256.7 L210.4 220.3"/>
<!-- K1 knuckle top to shield notch and shield to hub -->
<path d="M218 332.7 L307.8 261"/>
<path d="M340.4 233.5 L375 206"/>
<!-- central axis -->
<path d="M153.4 440.5 L351 278.7 M372.5 261 L422 221.5"/>
<!-- K3 bolt A -->
<path d="M152.7 390 L185.3 361.6"/>
<!-- K4 bolt C -->
<path d="M181.7 470.1 L239.4 423.5 M286 386 L358 327.8"/>
<path d="M393 300 L430 269"/>
<!-- nut line -->
<path d="M523.8 77.6 L542.8 61.4"/>
<path d="M554.2 50 L569.5 39.5 M573.3 33.8 L580.9 28.5"/>
<!-- stud extension lines beyond rotor -->
<g style="stroke-width:2.6">
<path d="M536.2 86.1 L565.7 61.4 M571.4 55.7 L578 51.3"/>
<path d="M541.9 88 L563.8 70.9 M568.5 66.1 L575.2 61.4"/>
<path d="M565.7 103.2 L596 81.4 M599.9 75.7 L607.5 70.9"/>
<path d="M568.5 108 L588.5 96.2 M592.8 91 L599 86.7"/>
<path d="M581.9 136.1 L610.4 114.2 M614.2 109.5 L621.8 104.7"/>
<path d="M582.8 143.7 L598 133.3 M603.8 127.6 L610.4 122.8"/>
<path d="M585.7 153.2 L601.8 141.8 M606.6 137 L613.3 132.9"/>
</g>
</g>

<!-- 92_nut.svg -->
<g id="nut">
<path d="M540.5 53 L545 48.3 L551.5 48.3 L555.6 53 L555.6 61 L551.5 66 L545.5 66 L539.5 61 Z" fill="#000" stroke="#000" stroke-width="1.5" stroke-linejoin="round"/>
<ellipse cx="545.6" cy="57.8" rx="3.4" ry="4.3" fill="#fff" transform="rotate(-30 545.6 57.8)"/>
<ellipse cx="545.4" cy="58" rx="1.7" ry="2.3" fill="#000" transform="rotate(-30 545.4 58)"/>
<ellipse cx="545.2" cy="58.2" rx="0.7" ry="1" fill="#fff"/>
<path d="M550.5 52.5 L552.5 56.5" stroke="#fff" stroke-width="0.8"/>
</g>

<!-- 95_leaders.svg -->
<!-- LEADERS -->
<g id="leaders" class="l">
<path d="M333 60.5 L273 79.8"/>
<path d="M382.5 93 L429 106.5"/>
<path d="M416 56.5 L539 55"/>
<path d="M565 286 L465.8 263.3"/>
<path d="M468 376 L405.5 244"/>
<path d="M464.2 445.5 L386.4 372.7"/>
<path d="M396.5 446.7 L290 371.6"/>
<path d="M331 455.2 L263 447.8"/>
<path d="M296.5 486.6 L183.3 474.2"/>
</g>


</svg>
</body></html>
